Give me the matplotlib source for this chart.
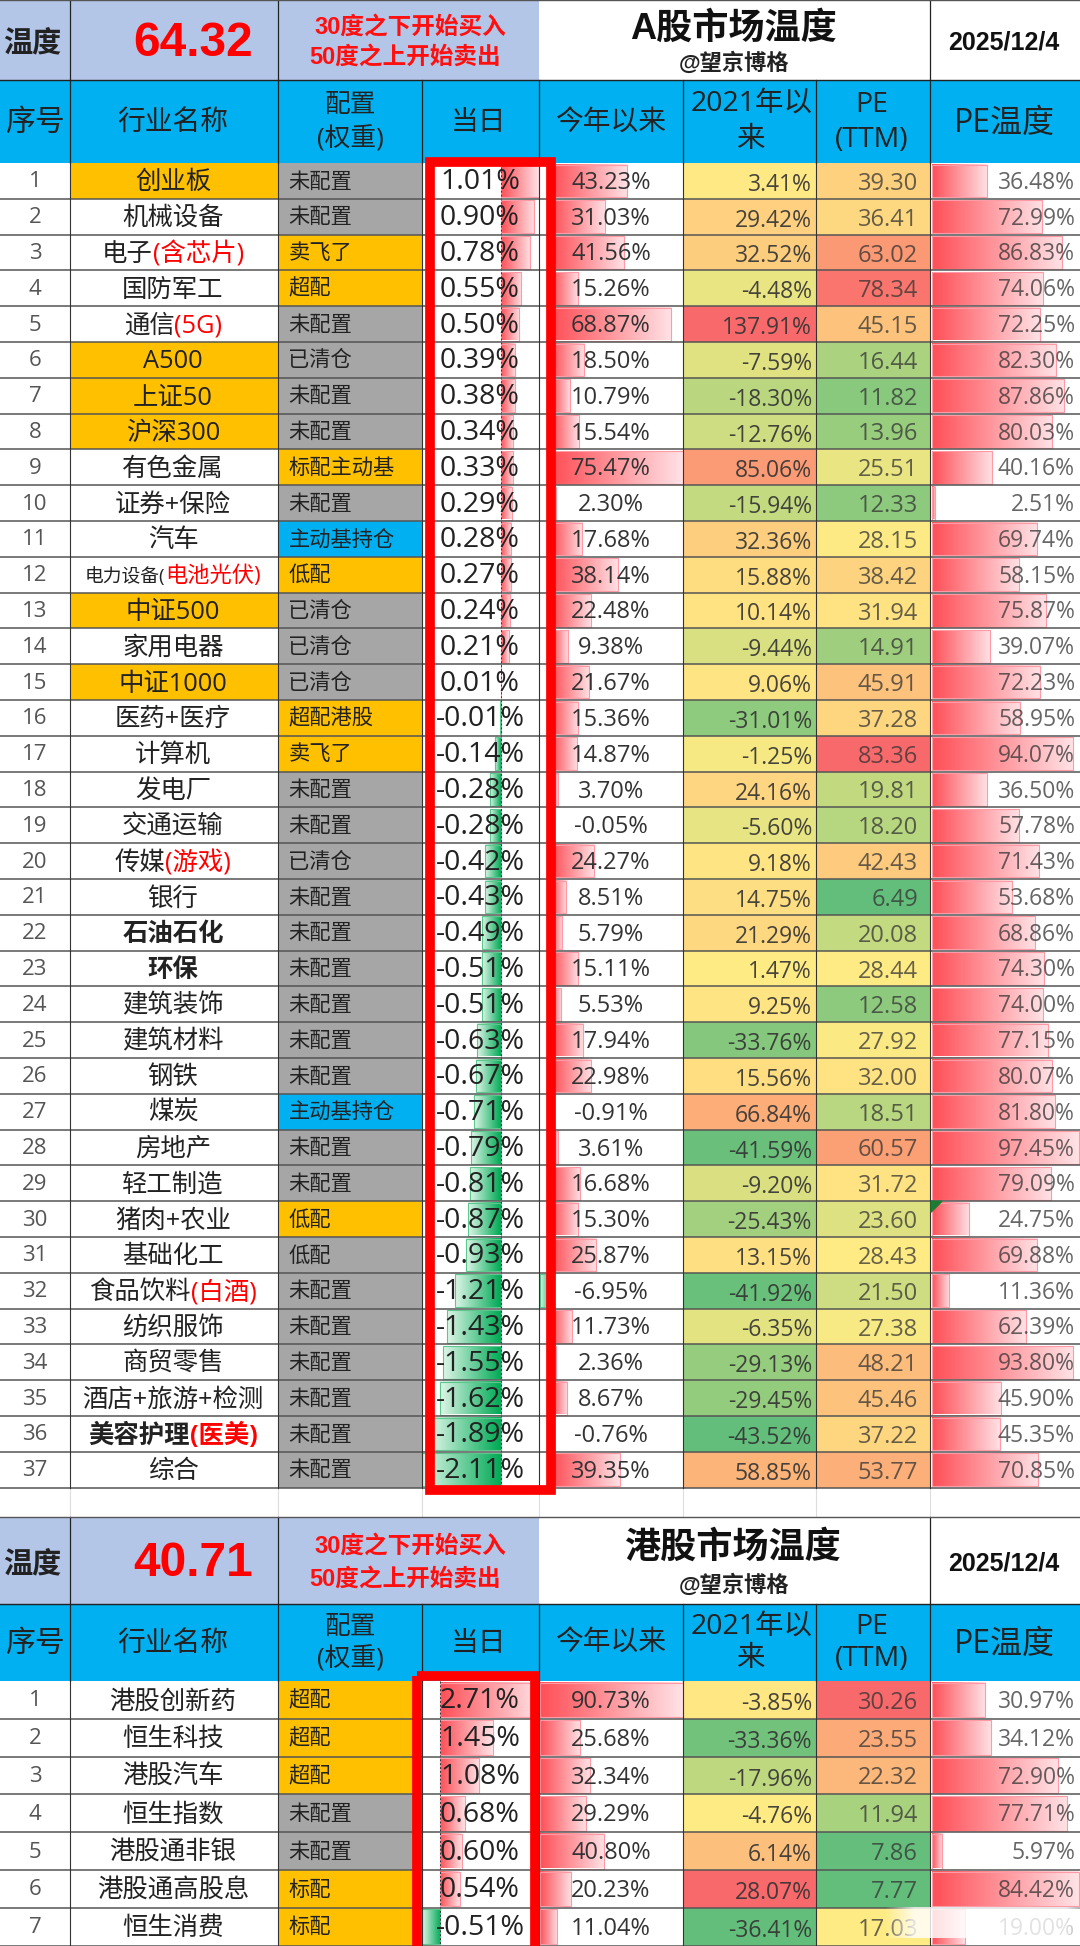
#!/usr/bin/env python3
import numpy as np
import matplotlib

matplotlib.use("Agg")
import matplotlib.pyplot as plt
from matplotlib.patches import Rectangle

plt.rcParams["font.family"] = ["Open Sans", "Noto Sans CJK SC", "DejaVu Sans"]
CJK_FONT = ["Noto Sans CJK SC", "DejaVu Sans"]
ARIAL_FONT = ["Liberation Sans", "Noto Sans CJK SC"]

# A-share table
a_names = [
    "创业板", "机械设备", "电子", "国防军工", "通信", "A500", "上证50", "沪深300",
    "有色金属", "证券+保险", "汽车", "电力设备(", "中证500", "家用电器", "中证1000",
    "医药+医疗", "计算机", "发电厂", "交通运输", "传媒", "银行", "石油石化", "环保",
    "建筑装饰", "建筑材料", "钢铁", "煤炭", "房地产", "轻工制造", "猪肉+农业",
    "基础化工", "食品饮料", "纺织服饰", "商贸零售", "酒店+旅游+检测", "美容护理", "综合",
]
a_red_notes = {3: "(含芯片)", 5: "(5G)", 12: "电池光伏)", 20: "(游戏)", 32: "(白酒)", 36: "(医美)"}
a_alloc = [
    "未配置", "未配置", "卖飞了", "超配", "未配置", "已清仓", "未配置", "未配置",
    "标配主动基", "未配置", "主动基持仓", "低配", "已清仓", "已清仓", "已清仓",
    "超配港股", "卖飞了", "未配置", "未配置", "已清仓", "未配置", "未配置", "未配置",
    "未配置", "未配置", "未配置", "主动基持仓", "未配置", "未配置", "低配",
    "低配", "未配置", "未配置", "未配置", "未配置", "未配置", "未配置",
]
a_day = [
    1.01, 0.90, 0.78, 0.55, 0.50, 0.39, 0.38, 0.34, 0.33, 0.29, 0.28, 0.27, 0.24,
    0.21, 0.01, -0.01, -0.14, -0.28, -0.28, -0.42, -0.43, -0.49, -0.51, -0.51,
    -0.63, -0.67, -0.71, -0.79, -0.81, -0.87, -0.93, -1.21, -1.43, -1.55, -1.62,
    -1.89, -2.11,
]
a_ytd = [
    43.23, 31.03, 41.56, 15.26, 68.87, 18.50, 10.79, 15.54, 75.47, 2.30, 17.68,
    38.14, 22.48, 9.38, 21.67, 15.36, 14.87, 3.70, -0.05, 24.27, 8.51, 5.79, 15.11,
    5.53, 17.94, 22.98, -0.91, 3.61, 16.68, 15.30, 25.87, -6.95, 11.73, 2.36, 8.67,
    -0.76, 39.35,
]
a_since21 = [
    3.41, 29.42, 32.52, -4.48, 137.91, -7.59, -18.30, -12.76, 85.06, -15.94, 32.36,
    15.88, 10.14, -9.44, 9.06, -31.01, -1.25, 24.16, -5.60, 9.18, 14.75, 21.29, 1.47,
    9.25, -33.76, 15.56, 66.84, -41.59, -9.20, -25.43, 13.15, -41.92, -6.35, -29.13,
    -29.45, -43.52, 58.85,
]
a_pe = [
    39.30, 36.41, 63.02, 78.34, 45.15, 16.44, 11.82, 13.96, 25.51, 12.33, 28.15,
    38.42, 31.94, 14.91, 45.91, 37.28, 83.36, 19.81, 18.20, 42.43, 6.49, 20.08, 28.44,
    12.58, 27.92, 32.00, 18.51, 60.57, 31.72, 23.60, 28.43, 21.50, 27.38, 48.21,
    45.46, 37.22, 53.77,
]
a_pe_temp = [
    36.48, 72.99, 86.83, 74.06, 72.25, 82.30, 87.86, 80.03, 40.16, 2.51, 69.74,
    58.15, 75.87, 39.07, 72.23, 58.95, 94.07, 36.50, 57.78, 71.43, 53.68, 68.86,
    74.30, 74.00, 77.15, 80.07, 81.80, 97.45, 79.09, 24.75, 69.88, 11.36, 62.39,
    93.80, 45.90, 45.35, 70.85,
]

# HK table
h_names = ["港股创新药", "恒生科技", "港股汽车", "恒生指数", "港股通非银", "港股通高股息", "恒生消费"]
h_alloc = ["超配", "超配", "超配", "未配置", "未配置", "标配", "标配"]
h_day = [2.71, 1.45, 1.08, 0.68, 0.60, 0.54, -0.51]
h_ytd = [90.73, 25.68, 32.34, 29.29, 40.80, 20.23, 11.04]
h_since21 = [-3.85, -33.36, -17.96, -4.76, 6.14, 28.07, -36.41]
h_pe = [30.26, 23.55, 22.32, 11.94, 7.86, 7.77, 17.03]
h_pe_temp = [30.97, 34.12, 72.90, 77.71, 5.97, 84.42, 19.00]

COLS = [0, 70, 278, 421.5, 538.6, 683, 815.5, 930, 1080]
BLUE_HEAD = "#00B0F0"
PALE_HEAD = "#B4C6E7"
ORANGE = "#FFC000"
GRAY = "#A6A6A6"
LINE = "#555555"

fig = plt.figure(figsize=(10.8, 19.46), dpi=100)
ax = fig.add_axes([0, 0, 1, 1])
ax.set_xlim(0, 1080)
ax.set_ylim(1946, 0)
ax.axis("off")
ax.autoscale(False)
renderer = fig.canvas.get_renderer()


def gradient(start, end, steps=64):
    t = np.linspace(0, 1, steps)[None, :, None]
    return ((1 - t) * np.array(start) + t * np.array(end)).astype(np.uint8)


RED_GRAD = gradient([255, 80, 88], [255, 226, 230])
GREEN_GRAD = gradient([0, 170, 85], [222, 246, 232])


def fill(x0, y0, x1, y1, color, z=1):
    ax.add_patch(Rectangle((x0, y0), x1 - x0, y1 - y0, facecolor=color, edgecolor="none", zorder=z))


def scale_color(v, lo, mid, hi):
    low, middle, high = np.array([99, 190, 123]), np.array([255, 235, 132]), np.array([248, 105, 107])
    if v <= mid:
        c = low + (middle - low) * (v - lo) / (mid - lo)
    else:
        c = middle + (high - middle) * (v - mid) / (hi - mid)
    return tuple(c / 255)


def draw_bar(value, zero, k, y0, y1):
    if value == 0:
        return
    x_end = zero + value * k
    grad = RED_GRAD if value > 0 else GREEN_GRAD
    edge = "#FF9AA6" if value > 0 else "#5CC88E"
    ax.imshow(grad, extent=(zero, x_end, y1 - 1.5, y0 + 1.5), aspect="auto",
              interpolation="bilinear", zorder=2)
    ax.add_patch(Rectangle((zero, y0 + 1.5), x_end - zero, y1 - y0 - 3, fill=False,
                           edgecolor=edge, linewidth=0.8, zorder=2.1))


def bar_column(values, x0, x1, y_edges):
    lo = min(0, min(values))
    k = (x1 - x0) / (max(values) - lo)
    zero = x0 - lo * k
    for i, v in enumerate(values):
        draw_bar(v, zero, k, y_edges[i], y_edges[i + 1])
    if lo < 0:
        ax.plot([zero, zero], [y_edges[0], y_edges[-1]], color="#333333", lw=0.7,
                ls=(0, (2, 2)), zorder=2.2)


def name_text(x, y, black, red, size_black=18.3, size_red=18.3, weight="normal"):
    parts = []
    if black:
        parts.append((black, "#222222", size_black))
    if red:
        parts.append((red, "#FF0000", size_red))
    items = [ax.text(0, y, s, color=c, fontsize=fs, ha="left", va="center", weight=weight, zorder=4)
             for s, c, fs in parts]
    widths = [t.get_window_extent(renderer).width for t in items]
    cur = x - sum(widths) / 2
    for t, w in zip(items, widths):
        t.set_x(cur)
        cur += w


def header(top, h_top, h_cols, temp, title):
    mid = top + h_top
    bottom = mid + h_cols
    fill(0, top, 538.6, mid, PALE_HEAD)
    fill(0, mid, 1080, bottom, BLUE_HEAD)
    for x in [70, 278]:
        ax.plot([x, x], [top, mid], color="#222222", lw=0.9, zorder=3)
    ax.plot([930, 930], [top, mid], color="#222222", lw=0.9, zorder=3)
    for x in COLS[1:-1]:
        ax.plot([x, x], [mid, bottom], color="#222222", lw=0.9, zorder=3)
    ax.plot([0, 1080], [mid, mid], color="#222222", lw=1.0, zorder=3)
    ax.plot([0, 1080], [top, top], color=LINE, lw=1.0, zorder=3)

    ax.text(32, top + 0.54 * h_top, "温度", fontsize=21, family=CJK_FONT, weight="bold", color="#222222",
            ha="center", va="center")
    ax.text(193, top + 0.54 * h_top, temp, fontsize=34.5, family=ARIAL_FONT, weight="bold", color="#FF0000",
            ha="center", va="center")
    ax.text(410, top + 0.34 * h_top, "30度之下开始买入", fontsize=17, family=ARIAL_FONT, weight="bold",
            color="#FF1010", ha="center", va="center")
    ax.text(405, top + 0.71 * h_top, "50度之上开始卖出", fontsize=17, family=ARIAL_FONT, weight="bold",
            color="#FF1010", ha="center", va="center")
    ax.text(733, top + 0.36 * h_top, title, fontsize=26, family=ARIAL_FONT, weight="bold", color="#111111",
            ha="center", va="center")
    ax.text(734, top + 0.79 * h_top, "@望京博格", fontsize=16, family=ARIAL_FONT, weight="bold", color="#222222",
            ha="center", va="center")
    ax.text(1004, top + 0.53 * h_top, "2025/12/4", fontsize=18, family=ARIAL_FONT, weight="bold",
            color="#111111", ha="center", va="center")

    one = mid + 0.52 * h_cols
    upper = mid + 0.30 * h_cols
    lower = mid + 0.72 * h_cols
    for x, s, fs in [(35, "序号", 21.5), (173, "行业名称", 20), (479, "当日", 20), (611, "今年以来", 20),
                     (1004, "PE温度", 23)]:
        ax.text(x, one, s, fontsize=fs, color="#222222", ha="center", va="center", zorder=4)
    for x, s, y, fs in [(350, "配置", upper, 18.5), (350, "(权重)", lower, 18.5),
                        (752, "2021年以", upper, 20.5), (750, "来", lower, 20.5),
                        (872, "PE", upper, 20.5), (872, "(TTM)", lower, 20.5)]:
        ax.text(x, y, s, fontsize=fs, color="#222222", ha="center", va="center", zorder=4)
    return bottom


def body(y0, row_h, black_names, red_notes, alloc, day, ytd, since21, pe, pe_temp, name_fills):
    n = len(day)
    edges = [y0 + i * row_h for i in range(n + 1)]
    med_s, med_p = np.median(since21), np.median(pe)
    for i in range(n):
        top, bot = edges[i], edges[i + 1]
        mid = (top + bot) / 2
        no = i + 1
        if no in name_fills:
            fill(70, top, 278, bot, ORANGE)
        label = alloc[i]
        if label == "主动基持仓":
            acolor = BLUE_HEAD
        elif label in ("未配置", "已清仓") or (label == "低配" and no == 31):
            acolor = GRAY
        else:
            acolor = ORANGE
        fill(278, top, 421.5, bot, acolor)
        fill(683, top, 815.5, bot, scale_color(since21[i], min(since21), med_s, max(since21)))
        fill(815.5, top, 930, bot, scale_color(pe[i], min(pe), med_p, max(pe)))

        ax.text(35, mid + 1, str(no), fontsize=16, color="#555555", ha="center", va="center", zorder=4)
        if no == 12 and n > 10:
            name_text(173, mid + 2, black_names[i], red_notes.get(no), 13.5, 16)
        else:
            bold = n > 10 and no in (22, 23, 36)
            name_text(173, mid + 2, black_names[i], red_notes.get(no), weight="bold" if bold else "normal")
        ax.text(288.5, mid + 1, label, fontsize=15.3, color="#222222", ha="left", va="center", zorder=4)
        ax.text(480, mid + 1.5, f"{day[i]:.2f}%", fontsize=20.5, color="#222222", ha="center", va="center", zorder=4)
        ax.text(611, mid + 2, f"{ytd[i]:.2f}%", fontsize=17, color="#333333", ha="center", va="center", zorder=4)
        ax.text(812, mid + 4, f"{since21[i]:.2f}%", fontsize=16.5, color="#333333", alpha=0.9,
                ha="right", va="center", zorder=4)
        ax.text(918, mid + 3, f"{pe[i]:.2f}", fontsize=17, color="#333333", alpha=0.75,
                ha="right", va="center", zorder=4)
        ax.text(1075, mid + 2, f"{pe_temp[i]:.2f}%", fontsize=16.5, color="#333333", alpha=0.75,
                ha="right", va="center", zorder=4)

    bar_column(day, 421.5, 538.6, edges)
    bar_column(ytd, 539.5, 682.5, edges)
    bar_column(pe_temp, 931.5, 1078.5, edges)

    for y in edges[1:]:
        ax.plot([0, 1080], [y, y], color=LINE, lw=1.1, zorder=3)
    for x in COLS[1:-1]:
        ax.plot([x, x], [edges[0], edges[-1]], color="#333333", lw=0.8, zorder=3)
    return edges


# upper table
bottom = header(0, 80, 83, "64.32", "A股市场温度")
a_edges = body(bottom, 35.8, a_names, a_red_notes, a_alloc, a_day, a_ytd, a_since21, a_pe, a_pe_temp,
               {1, 6, 7, 8, 13, 15})
# little green corner mark on the 30th row
ax.fill([931, 942, 931], [a_edges[29], a_edges[29], a_edges[29] + 11], color="#1E7B34", zorder=5)

# spacer rows between the tables
for x in COLS[1:-1]:
    ax.plot([x, x], [a_edges[-1], 1517], color="#DDDDDD", lw=0.8, zorder=1)

# lower table
bottom = header(1517, 87, 77, "40.71", "港股市场温度")
h_edges = body(bottom, 37.8, h_names, {}, h_alloc, h_day, h_ytd, h_since21, h_pe, h_pe_temp, set())

# red frames over the day column
ax.add_patch(Rectangle((429.5, 161.5), 121, 1328, fill=False, edgecolor="#FF0000", linewidth=7,
                       joinstyle="miter", zorder=6))
ax.add_patch(Rectangle((417, 1675.5), 118, 280, fill=False, edgecolor="#FF0000", linewidth=7,
                       joinstyle="miter", zorder=6))

# blurred watermark at the bottom right
alpha = np.clip(np.minimum(np.linspace(0, 6, 200), np.linspace(6, 0, 200)), 0, 0.82)[None, :]
mark = np.ones((1, 200, 4))
mark[..., 3] = alpha
ax.imshow(mark, extent=(885, 1095, 1938, 1907), aspect="auto", interpolation="bilinear", zorder=7)

fig.savefig("out.png", dpi=100)
